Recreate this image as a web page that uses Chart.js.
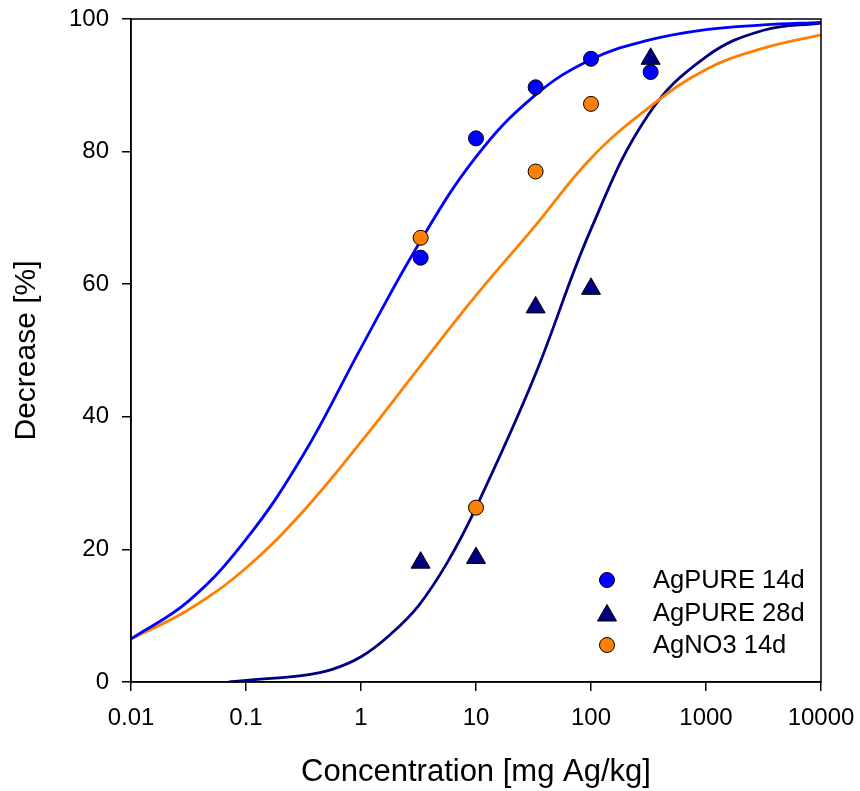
<!DOCTYPE html>
<html lang="en">
<head>
<meta charset="UTF-8">
<title>Decrease vs Concentration</title>
<script src="https://cdn.jsdelivr.net/npm/chart.js"></script>
<style>
    html, body { margin: 0; padding: 0; background: #fff; }
    #wrap { width: 860px; height: 791px; }
</style>
</head>
<body>
<div id="wrap"><canvas id="chart" width="860" height="791"></canvas></div>

<script>
    // measured points
    var doseX = [3.3, 10, 33, 100, 330];
    var pure14 = [64, 82, 89.7, 94, 92];
    var pure28 = [18, 18.7, 56.5, 59.3, 94];
    var agno3X = [3.3, 10, 33, 100];
    var agno3 = [67, 26.3, 77, 87.2];

    // fitted curves
    var fitX = [0.01, 0.0316, 0.1, 0.316, 1, 3.16, 10, 31.6, 100, 316, 1000, 3162, 10000];
    var fitPure14 = [6.5, 12.2, 21.5, 34.3, 50.4, 66, 79.2, 88.3, 93.9, 96.8, 98.4, 99.1, 99.5];
    var fitAgno3 = [6.5, 10.9, 17.2, 25.8, 36.2, 47.3, 58.3, 68.5, 79, 86.6, 92.4, 95.6, 97.6];
    var fit28X = [0.0708, 0.1, 0.178, 0.316, 0.562, 1, 1.78, 3.16, 5.62, 10, 31.6, 100, 316, 1000, 3162, 10000];
    var fitPure28 = [0, 0.25, 0.6, 1.0, 1.9, 3.8, 7.1, 11.5, 18, 26.3, 45.7, 68.3, 85.6, 94.3, 98.3, 99.4];

    var xTicks = [0.01, 0.1, 1, 10, 100, 1000, 10000];
    var xTickLabels = ['0.01', '0.1', '1', '10', '100', '1000', '10000'];

    var seriesNames = ['AgPURE 14d', 'AgPURE 28d', 'AgNO3 14d'];
    var blue = '#0000ff', navy = '#000080', orange = '#ff8000';
    var fontFamily = '"Liberation Sans", Arial, sans-serif';

    function pts(xs, ys) {
        return xs.map(function (x, i) { return { x: x, y: ys[i] }; });
    }

    // frame round the plot + legend in the lower right corner
    var framePlugin = {
        id: 'frame',
        afterDatasetsDraw: function (chart) {
            var ctx = chart.ctx, a = chart.chartArea;
            ctx.save();
            ctx.strokeStyle = '#000';
            ctx.lineWidth = 1.5;
            ctx.strokeRect(a.left, a.top, a.right - a.left, a.bottom - a.top);

            var items = [
                { style: 'circle', color: blue, r: 7.5 },
                { style: 'triangle', color: navy, r: 11 },
                { style: 'circle', color: orange, r: 7.5 }
            ];
            var mx = 607, tx = 653, y0 = 580, dy = 32.5;
            ctx.font = '25.5px ' + fontFamily;
            ctx.textBaseline = 'middle';
            ctx.textAlign = 'left';
            items.forEach(function (it, i) {
                var y = y0 + i * dy;
                ctx.fillStyle = it.color;
                ctx.strokeStyle = '#000';
                ctx.lineWidth = 1;
                Chart.helpers.drawPoint(ctx, { pointStyle: it.style, radius: it.r, borderWidth: 1 }, mx, y + (it.style === 'triangle' ? 3 : 0));
                ctx.fillStyle = '#000';
                ctx.fillText(seriesNames[i], tx, y + 1);
            });
            ctx.restore();
        }
    };

    function curve(label, data, color) {
        return {
            type: 'line',
            label: label,
            data: data,
            borderColor: color,
            borderWidth: 2.8,
            pointRadius: 0,
            tension: 0.4
        };
    }

    new Chart(document.getElementById('chart'), {
        type: 'scatter',
        data: {
            datasets: [{
                label: seriesNames[1],
                data: pts(doseX, pure28),
                pointStyle: 'triangle',
                pointRadius: 11,
                backgroundColor: navy,
                borderColor: '#000',
                borderWidth: 1
            }, {
                label: seriesNames[0],
                data: pts(doseX, pure14),
                pointStyle: 'circle',
                pointRadius: 7.5,
                backgroundColor: blue,
                borderColor: '#000',
                borderWidth: 1
            }, {
                label: seriesNames[2],
                data: pts(agno3X, agno3),
                pointStyle: 'circle',
                pointRadius: 7.5,
                backgroundColor: orange,
                borderColor: '#000',
                borderWidth: 1
            },
            curve('fit AgPURE 14d', pts(fitX, fitPure14), blue),
            curve('fit AgNO3 14d', pts(fitX, fitAgno3), orange),
            curve('fit AgPURE 28d', pts(fit28X, fitPure28), navy)]
        },
        options: {
            responsive: false,
            animation: false,
            layout: { padding: { left: 0, top: 19, right: 39, bottom: 0 } },
            plugins: {
                legend: { display: false },
                tooltip: { enabled: false }
            },
            scales: {
                x: {
                    type: 'logarithmic',
                    min: 0.01,
                    max: 10000,
                    afterBuildTicks: function (s) {
                        s.ticks = xTicks.map(function (v) { return { value: v }; });
                    },
                    afterFit: function (s) {
                        s.height = 109;
                        s.paddingLeft = 0;
                        s.paddingRight = 0;
                    },
                    ticks: {
                        autoSkip: false,
                        maxRotation: 0,
                        padding: 13,
                        color: '#000',
                        font: { family: fontFamily, size: 24 },
                        callback: function (v, i) { return xTickLabels[i]; }
                    },
                    grid: { display: true, drawOnChartArea: false, drawTicks: true, tickLength: 9, color: '#000', lineWidth: 1.5 },
                    border: { display: true, color: '#000', width: 1.5 },
                    title: {
                        display: true,
                        text: 'Concentration [mg Ag/kg]',
                        color: '#000',
                        padding: { top: 0, bottom: 0 },
                        font: { family: fontFamily, size: 31 }
                    }
                },
                y: {
                    min: 0,
                    max: 100,
                    afterFit: function (s) {
                        s.width = 131;
                        s.paddingTop = 0;
                        s.paddingBottom = 0;
                    },
                    ticks: {
                        stepSize: 20,
                        padding: 13,
                        color: '#000',
                        font: { family: fontFamily, size: 24 }
                    },
                    grid: { display: true, drawOnChartArea: false, drawTicks: true, tickLength: 9, color: '#000', lineWidth: 1.5 },
                    border: { display: true, color: '#000', width: 1.5 },
                    title: {
                        display: true,
                        text: 'Decrease [%]',
                        color: '#000',
                        padding: { top: 9, bottom: 0 },
                        font: { family: fontFamily, size: 30 }
                    }
                }
            }
        },
        plugins: [framePlugin]
    });
</script>
</body>
</html>
